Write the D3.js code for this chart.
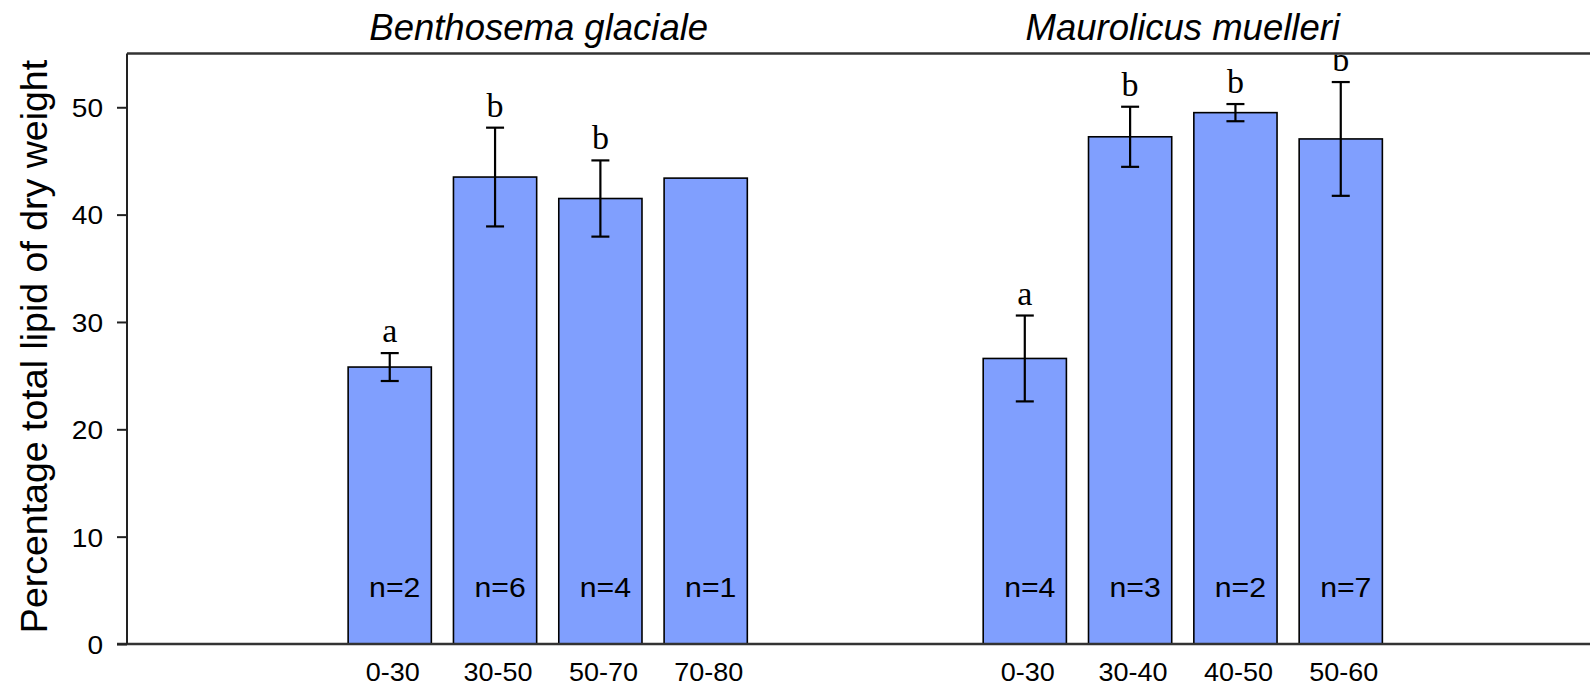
<!DOCTYPE html>
<html>
<head>
<meta charset="utf-8">
<script src="https://cdn.jsdelivr.net/npm/d3@7"></script>
<style>
  html, body { margin: 0; padding: 0; background: #ffffff; }
  svg { display: block; }
</style>
</head>
<body>
<svg id="chart" width="1590" height="690"></svg>
<script>
// Species panels
const groups = ["Benthosema glaciale", "Maurolicus muelleri"];

// Benthosema glaciale: length classes, mean lipid %, error, sample size, significance letter
const benthosemaLengths = ["0-30", "30-50", "50-70", "70-80"];
const benthosemaMeans   = [25.8, 43.5, 41.5, 43.4];
const benthosemaErrors  = [1.3, 4.6, 3.55, null];
const benthosemaN       = [2, 6, 4, 1];
const benthosemaLetters = ["a", "b", "b", ""];

// Maurolicus muelleri
const maurolicusLengths = ["0-30", "30-40", "40-50", "50-60"];
const maurolicusMeans   = [26.6, 47.25, 49.5, 47.05];
const maurolicusErrors  = [4.0, 2.8, 0.8, 5.3];
const maurolicusN       = [4, 3, 2, 7];
const maurolicusLetters = ["a", "b", "b", "b"];

const yTicks = [0, 10, 20, 30, 40, 50];
const yTitle = "Percentage total lipid of dry weight";

const panels = [
  { name: groups[0], lengths: benthosemaLengths, means: benthosemaMeans, errors: benthosemaErrors, n: benthosemaN, letters: benthosemaLetters, titleShift: -9 },
  { name: groups[1], lengths: maurolicusLengths, means: maurolicusMeans, errors: maurolicusErrors, n: maurolicusN, letters: maurolicusLetters, titleShift: 0 }
];

const svg = d3.select("#chart");
const W = 1590, H = 690;
const plot = { left: 127, right: 1603.5, top: 53.6, bottom: 644 };
const stretch = 1.08;           // horizontal widening used for the numeric labels
const barFill = "#809ffe";
const sans = "'Liberation Sans', Arial, sans-serif";

svg.append("rect").attr("width", W).attr("height", H).attr("fill", "#ffffff");

const y = d3.scaleLinear().domain([0, 55]).range([plot.bottom, plot.top]);

const outer = d3.scaleBand().domain(groups)
  .range([plot.left, plot.right]).paddingInner(0.325).paddingOuter(0.325);
const inner = d3.scaleBand().domain([0, 1, 2, 3])
  .range([0, outer.bandwidth()]).paddingInner(0.21).paddingOuter(0.14);

svg.append("defs").append("clipPath").attr("id", "plotClip")
  .append("rect").attr("x", plot.left).attr("y", plot.top + 1)
  .attr("width", W - plot.left).attr("height", plot.bottom - plot.top);

// Bars, error bars and labels for each species
panels.forEach(p => {
  const g = svg.append("g");
  const rows = p.means.map((m, i) => ({
    i, mean: m, err: p.errors[i], n: p.n[i], letter: p.letters[i], label: p.lengths[i],
    x: outer(p.name) + inner(i)
  }));
  const bw = inner.bandwidth();

  g.selectAll("rect.bar").data(rows).join("rect")
    .attr("class", "bar")
    .attr("x", d => d.x).attr("width", bw)
    .attr("y", d => y(d.mean)).attr("height", d => y(0) - y(d.mean))
    .attr("fill", barFill).attr("stroke", "#000").attr("stroke-width", 1.6);

  const eb = g.selectAll("g.err").data(rows.filter(d => d.err != null)).join("g")
    .attr("class", "err").attr("stroke", "#000").attr("stroke-width", 2.2);
  eb.append("line")
    .attr("x1", d => d.x + bw / 2).attr("x2", d => d.x + bw / 2)
    .attr("y1", d => y(d.mean + d.err)).attr("y2", d => y(d.mean - d.err));
  eb.append("line")
    .attr("x1", d => d.x + bw / 2 - 9).attr("x2", d => d.x + bw / 2 + 9)
    .attr("y1", d => y(d.mean + d.err)).attr("y2", d => y(d.mean + d.err));
  eb.append("line")
    .attr("x1", d => d.x + bw / 2 - 9).attr("x2", d => d.x + bw / 2 + 9)
    .attr("y1", d => y(d.mean - d.err)).attr("y2", d => y(d.mean - d.err));

  // significance letters above the error bars
  g.append("g").attr("clip-path", "url(#plotClip)")
    .selectAll("text").data(rows.filter(d => d.letter)).join("text")
    .attr("x", d => d.x + bw / 2)
    .attr("y", d => y(d.mean + (d.err || 0)) - 11)
    .attr("text-anchor", "middle")
    .attr("font-family", "'Liberation Serif', 'Times New Roman', serif")
    .attr("font-size", 34)
    .text(d => d.letter);

  // sample sizes inside the bars
  g.selectAll("text.n").data(rows).join("text")
    .attr("class", "n")
    .attr("transform", d => `translate(${d.x + bw / 2 + 5},${y(0) - 47}) scale(${stretch},1)`)
    .attr("text-anchor", "middle")
    .attr("font-family", sans)
    .attr("font-size", 28)
    .text(d => "n=" + d.n);

  // length class labels below the axis
  g.selectAll("text.cat").data(rows).join("text")
    .attr("class", "cat")
    .attr("transform", d => `translate(${d.x + bw / 2 + 3},${y(0) + 37}) scale(${stretch},1)`)
    .attr("text-anchor", "middle")
    .attr("font-family", sans)
    .attr("font-size", 25)
    .text(d => d.label);

  // species title
  svg.append("text")
    .attr("x", outer(p.name) + outer.bandwidth() / 2 + p.titleShift)
    .attr("y", 40)
    .attr("text-anchor", "middle")
    .attr("font-family", sans)
    .attr("font-style", "italic")
    .attr("font-size", 36.5)
    .text(p.name);
});

// Frame: top and bottom lines, left axis with ticks
const frame = svg.append("g").attr("stroke", "#333").attr("stroke-width", 2.5);
frame.append("line").attr("x1", plot.left).attr("x2", W + 20).attr("y1", plot.top).attr("y2", plot.top);
frame.append("line").attr("x1", plot.left - 10).attr("x2", W + 20).attr("y1", plot.bottom).attr("y2", plot.bottom);

const yAxis = svg.append("g")
  .attr("transform", `translate(${plot.left},0)`)
  .call(d3.axisLeft(y).tickValues(yTicks).tickSize(10).tickPadding(13).tickSizeOuter(0));
yAxis.select(".domain").attr("stroke", "#222").attr("stroke-width", 2)
  .attr("d", `M0,${plot.top}V${plot.bottom}`);
yAxis.selectAll(".tick line").attr("stroke", "#222").attr("stroke-width", 2);
yAxis.selectAll(".tick text")
  .attr("x", null).attr("dy", "0.36em")
  .attr("transform", `translate(-24,0) scale(${stretch},1)`)
  .attr("fill", "#000")
  .attr("font-family", sans)
  .attr("font-size", 26);

// y axis title
svg.append("text")
  .attr("transform", "translate(47,346.5) rotate(-90)")
  .attr("text-anchor", "middle")
  .attr("font-family", sans)
  .attr("font-size", 37.5)
  .text(yTitle);
</script>
</body>
</html>
